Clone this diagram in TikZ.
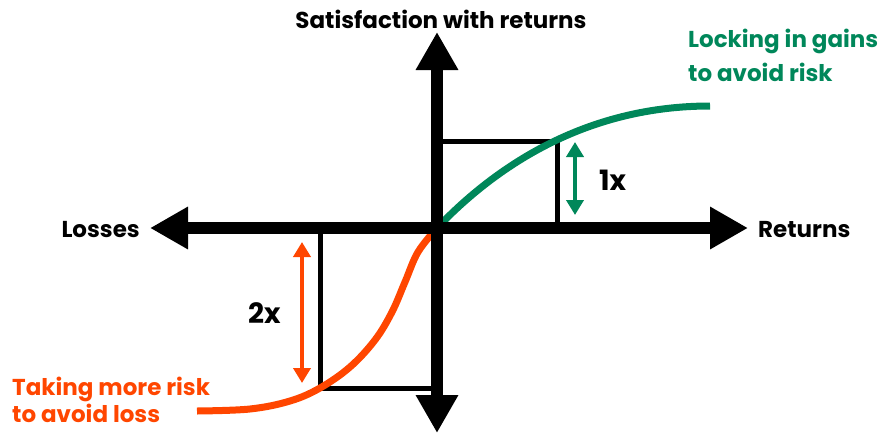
\documentclass[tikz,border=0pt]{standalone}
\usepackage{fontspec}
\setmainfont{Poppins}
\usetikzlibrary{arrows.meta}
\definecolor{gr}{RGB}{0,135,90}
\definecolor{org}{RGB}{255,70,0}
\begin{document}
\begin{tikzpicture}[x=1pt,y=-1pt,
  lbl/.style={font=\bfseries\fontsize{23}{26}\selectfont, inner sep=0pt},
  numlbl/.style={font=\bfseries\fontsize{28}{30}\selectfont, inner sep=0pt},
  clbl/.style={font=\bfseries\fontsize{23}{26}\selectfont, inner sep=0pt},
  bigaxis/.style={line width=12pt, {Triangle[length=38pt,width=40pt]}-{Triangle[length=38pt,width=40pt]}},
  boxline/.style={line width=5pt},
  curve/.style={line width=7pt},
  dbl/.style={line width=4pt, {Triangle[length=15pt,width=17pt]}-{Triangle[length=15pt,width=17pt]}}]
\useasboundingbox (0,0) rectangle (880,434);
% named points
\coordinate (O) at (437,228);
\coordinate (T) at (437,32);
\coordinate (B) at (437,433);
\coordinate (L) at (150,228);
\coordinate (R) at (748,228);
\coordinate (UB) at (557,141);
\coordinate (LB) at (320,388);
% boxes
\draw[boxline] (O) rectangle (UB);
\draw[boxline] (O) rectangle (LB);
% curves
\draw[curve, gr] (O) .. controls (500,162) and (590,106) .. (710,106);
\draw[curve, org] plot[smooth, tension=0.6] coordinates {(197,411) (250,409) (290,401) (320,388) (350,367) (375,340) (392,312) (405,282) (418,252) (437,228)};
% axes
\draw[bigaxis] (B) -- (T);
\draw[bigaxis] (L) -- (R);
% measure arrows
\coordinate (g1) at (575,142);
\coordinate (g2) at (575,215);
\coordinate (o1) at (302,242);
\coordinate (o2) at (302,383);
\draw[dbl, gr] (g1) -- (g2);
\draw[dbl, org] (o1) -- (o2);
% labels
\node[lbl, anchor=base] (ylab) at (441,28) {Satisfaction with returns};
\node[lbl, anchor=base east] (losses) at (140,237) {Losses};
\node[lbl, anchor=base west] (returns) at (758,237) {Returns};
\node[numlbl, anchor=base west] (one) at (599,190) {1x};
\node[numlbl, anchor=base west] (two) at (248,323) {2x};
\node[clbl, gr, anchor=base west] (lock1) at (688,47) {Locking in gains};
\node[clbl, gr, anchor=base west] (lock2) at (688,81) {to avoid risk};
\node[clbl, org, anchor=base west] (take1) at (12,395) {Taking more risk};
\node[clbl, org, anchor=base west] (take2) at (12,422) {to avoid loss};
\end{tikzpicture}
\end{document}
